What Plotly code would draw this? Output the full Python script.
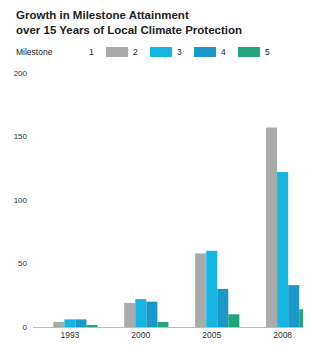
import plotly.graph_objects as go

years = ["1993", "2000", "2005", "2008"]
milestones = ["1", "2", "3", "4", "5"]
m1 = [6, 26, 66, 170]
m2 = [4, 19, 58, 157]
m3 = [6, 22, 60, 122]
m4 = [6, 20, 30, 33]
m5 = [1, 4, 10, 14]
series = [m1, m2, m3, m4, m5]
colors = ["#ffffff", "#a9aba9", "#16b6e2", "#1a98c9", "#22a57c"]
y_ticks = [0, 50, 100, 150, 200]

FONT = "Liberation Sans, Arial, sans-serif"
W, H = 303, 339
ML, MR, MT, MB = 25, 0, 65, 20
PW, PH = W - ML - MR, H - MT - MB
OFF = 8  # page body margin


def px(sx):
    return (sx - OFF - ML) / PW


def py(sy):
    return (H - MB - (sy - OFF)) / PH


fig = go.Figure()
for name, vals, col in zip(milestones, series, colors):
    fig.add_trace(go.Bar(x=years, y=vals, name=name, showlegend=False,
                         marker=dict(color=col, line=dict(width=0))))

shapes = []
annotations = [
    dict(text="<b>Growth in Milestone Attainment<br>over 15 Years of Local Climate Protection</b>",
         xref="paper", yref="paper", x=px(14), y=py(7), xanchor="left", yanchor="top",
         align="left", showarrow=False, font=dict(family=FONT, size=11.5, color="#222")),
    dict(text="Milestone", xref="paper", yref="paper", x=px(14), y=py(52),
         xanchor="left", yanchor="middle", showarrow=False,
         font=dict(family=FONT, size=8.5, color="#222")),
]
for i, (name, col) in enumerate(zip(milestones, colors)):
    x0 = 62 + 44 * i
    shapes.append(dict(type="rect", xref="paper", yref="paper",
                       x0=px(x0), x1=px(x0 + 22), y0=py(57), y1=py(47),
                       fillcolor=col, line=dict(width=0)))
    annotations.append(dict(text=name, xref="paper", yref="paper", x=px(x0 + 25), y=py(52),
                            xanchor="left", yanchor="middle", showarrow=False,
                            font=dict(family=FONT, size=8.5, color="#222")))

fig.update_layout(
    width=W, height=H,
    margin=dict(l=ML, r=MR, t=MT, b=MB),
    paper_bgcolor="white", plot_bgcolor="white",
    font=dict(family=FONT, size=9, color="#222"),
    barmode="group", bargap=0.22, bargroupgap=0,
    showlegend=False,
    shapes=shapes, annotations=annotations,
    xaxis=dict(
        type="category", range=[-0.52, 3.4], showgrid=False,
        showline=True, linecolor="#bbbbbb", linewidth=1, ticks="",
        tickfont=dict(size=8.5, color="#333"),
    ),
    yaxis=dict(
        range=[0, 200], tickvals=y_ticks, showgrid=False, zeroline=False,
        showline=False, ticks="", ticklabelstandoff=5,
        tickfont=dict(size=8, color="#333"),
    ),
)

fig.write_html("out.html")
